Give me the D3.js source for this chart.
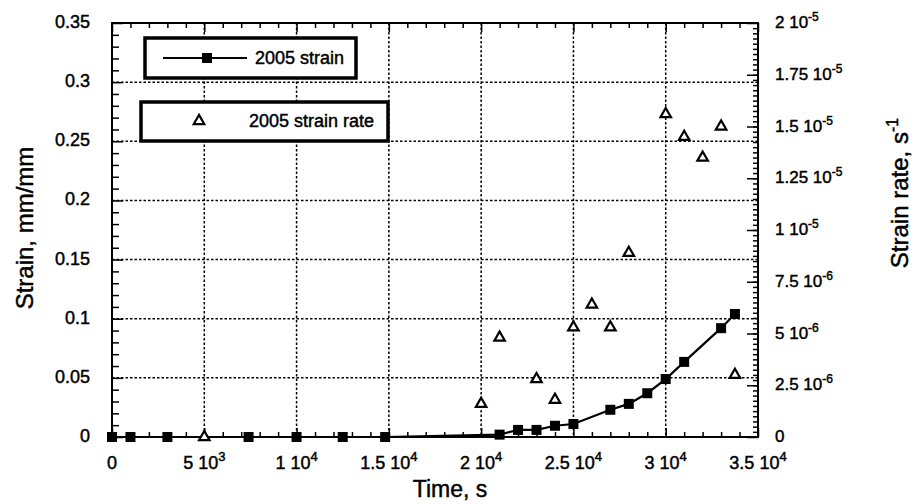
<!DOCTYPE html>
<html>
<head>
<meta charset="utf-8">
<script src="https://cdn.jsdelivr.net/npm/d3@7"></script>
<style>
  body { margin: 0; background: #fff; }
  text { font-family: "Liberation Sans", Arial, Helvetica, sans-serif; fill: #000; stroke: #000; stroke-width: 0.45px; }
</style>
</head>
<body>
<script>
// data
var strainTime = [0, 1000, 3000, 7400, 10000, 12500, 14800, 21000, 22000, 23000, 24000, 25000, 27000, 28000, 29000, 30000, 31000, 33000, 33750];
var strainValue = [0, 0, 0, 0, 0, 0, 0, 0.002, 0.006, 0.006, 0.0095, 0.011, 0.023, 0.028, 0.037, 0.049, 0.0635, 0.092, 0.104];

var rateTime = [5000, 20000, 21000, 23000, 24000, 25000, 26000, 27000, 28000, 30000, 31000, 32000, 33000, 33750];
var rateValue = [0, 1.6e-6, 4.8e-6, 2.8e-6, 1.8e-6, 5.3e-6, 6.4e-6, 5.3e-6, 8.9e-6, 1.56e-5, 1.45e-5, 1.35e-5, 1.5e-5, 3.0e-6];

var xTicks = [0, 5000, 10000, 15000, 20000, 25000, 30000, 35000];
var xTickMant = ["0", "5", "1", "1.5", "2", "2.5", "3", "3.5"];
var xTickExp = ["", "3", "4", "4", "4", "4", "4", "4"];

var yTicks = [0, 0.05, 0.1, 0.15, 0.2, 0.25, 0.3, 0.35];
var yTickLabels = ["0", "0.05", "0.1", "0.15", "0.2", "0.25", "0.3", "0.35"];

var y2Ticks = [0, 2.5e-6, 5e-6, 7.5e-6, 1e-5, 1.25e-5, 1.5e-5, 1.75e-5, 2e-5];
var y2TickMant = ["0", "2.5", "5", "7.5", "1", "1.25", "1.5", "1.75", "2"];
var y2TickExp = ["", "-6", "-6", "-6", "-5", "-5", "-5", "-5", "-5"];

var svgWidth = 917;
var svgHeight = 504;

var plotLeft = 112, plotRight = 758, plotTop = 23, plotBottom = 437;

var svg = d3.select("body")
  .append("svg")
  .attr("width", svgWidth)
  .attr("height", svgHeight);

var x = d3.scaleLinear().domain([0, 35000]).range([plotLeft, plotRight]);
var y = d3.scaleLinear().domain([0, 0.35]).range([plotBottom, plotTop]);
var y2 = d3.scaleLinear().domain([0, 2e-5]).range([plotBottom, plotTop]);

// grid
var grid = svg.append("g")
  .attr("stroke", "#000")
  .attr("stroke-width", 1.5)
  .attr("stroke-dasharray", "2.5,2");

grid.selectAll(".vg")
  .data(xTicks.slice(1, -1))
  .enter().append("line")
  .attr("x1", d => x(d)).attr("x2", d => x(d))
  .attr("y1", plotTop).attr("y2", plotBottom);

grid.selectAll(".hg")
  .data(yTicks.slice(1, -1))
  .enter().append("line")
  .attr("x1", plotLeft).attr("x2", plotRight)
  .attr("y1", d => y(d)).attr("y2", d => y(d));

// tick marks through d3 axes (labels drawn separately for superscripts)
var minorX = d3.range(0, 35001, 1000).filter(d => d % 5000 !== 0);
var minorY = d3.range(1, 35).filter(d => d % 5 !== 0).map(d => d / 100);
var minorY2 = d3.range(1, 80).map(d => d * 2.5e-7);

function tickAxis(axis, tr) {
  var g = svg.append("g").attr("transform", tr).call(axis);
  g.select(".domain").remove();
  g.selectAll("line").attr("stroke", "#000").attr("stroke-width", 1.5);
  return g;
}

tickAxis(d3.axisTop(x).tickValues(xTicks).tickSize(9).tickFormat(""), `translate(0,${plotBottom})`);
tickAxis(d3.axisTop(x).tickValues(minorX).tickSize(5).tickFormat(""), `translate(0,${plotBottom})`);
tickAxis(d3.axisBottom(x).tickValues(xTicks).tickSize(9).tickFormat(""), `translate(0,${plotTop})`);
tickAxis(d3.axisBottom(x).tickValues(minorX).tickSize(5).tickFormat(""), `translate(0,${plotTop})`);
tickAxis(d3.axisRight(y).tickValues(yTicks).tickSize(11).tickFormat(""), `translate(${plotLeft},0)`);
tickAxis(d3.axisRight(y).tickValues(minorY).tickSize(7).tickFormat(""), `translate(${plotLeft},0)`);
tickAxis(d3.axisLeft(y2).tickValues(y2Ticks).tickSize(11).tickFormat(""), `translate(${plotRight},0)`);
tickAxis(d3.axisLeft(y2).tickValues(minorY2).tickSize(5).tickFormat(""), `translate(${plotRight},0)`);

// frame
svg.append("rect")
  .attr("x", plotLeft).attr("y", plotTop)
  .attr("width", plotRight - plotLeft).attr("height", plotBottom - plotTop)
  .attr("fill", "none").attr("stroke", "#000").attr("stroke-width", 2);

// tick labels
svg.selectAll(".ylab")
  .data(yTicks)
  .enter().append("text")
  .attr("x", 90)
  .attr("y", d => y(d) + 5)
  .attr("text-anchor", "end")
  .attr("font-size", 18)
  .text((d, i) => yTickLabels[i]);

var xl = svg.selectAll(".xlab")
  .data(xTicks)
  .enter().append("text")
  .attr("x", d => x(d))
  .attr("y", 469)
  .attr("text-anchor", "middle")
  .attr("font-size", 18);
xl.append("tspan").text((d, i) => xTickExp[i] ? xTickMant[i] + " 10" : xTickMant[i]);
xl.append("tspan").attr("dy", -8).attr("font-size", 13).text((d, i) => xTickExp[i]);

var yl2 = svg.selectAll(".y2lab")
  .data(y2Ticks)
  .enter().append("text")
  .attr("x", 775)
  .attr("y", d => y2(d) + 5)
  .attr("font-size", 17);
yl2.append("tspan").text((d, i) => y2TickExp[i] ? y2TickMant[i] + " 10" : y2TickMant[i]);
yl2.append("tspan").attr("dy", -7).attr("font-size", 12).text((d, i) => y2TickExp[i]);

// axis titles
svg.append("text")
  .attr("x", 450).attr("y", 497)
  .attr("text-anchor", "middle")
  .attr("font-size", 23)
  .text("Time, s");

svg.append("text")
  .attr("transform", "translate(33,228) rotate(-90)")
  .attr("text-anchor", "middle")
  .attr("font-size", 24)
  .text("Strain, mm/mm");

var rt = svg.append("text")
  .attr("transform", "translate(908,193) rotate(-90)")
  .attr("text-anchor", "middle")
  .attr("font-size", 24);
rt.append("tspan").text("Strain rate, s");
rt.append("tspan").attr("dy", -10).attr("font-size", 16).text("-1");

// strain line with squares
var strainData = strainTime.map((t, i) => ({ t: t, v: strainValue[i] }));
svg.append("path")
  .datum(strainData)
  .attr("fill", "none")
  .attr("stroke", "#000")
  .attr("stroke-width", 2.2)
  .attr("d", d3.line().x(d => x(d.t)).y(d => y(d.v)));

svg.selectAll(".sq")
  .data(strainData)
  .enter().append("rect")
  .attr("x", d => x(d.t) - 5)
  .attr("y", d => y(d.v) - 5)
  .attr("width", 10).attr("height", 10)
  .attr("fill", "#000");

// strain rate triangles
var tri = d3.symbol().type(d3.symbolTriangle).size(48);
svg.selectAll(".tri")
  .data(rateTime.map((t, i) => ({ t: t, v: rateValue[i] })))
  .enter().append("path")
  .attr("d", tri)
  .attr("transform", d => `translate(${x(d.t)},${y2(d.v)})`)
  .attr("fill", "#fff")
  .attr("stroke", "#000")
  .attr("stroke-width", 2.2);

// legend
var leg1 = svg.append("g");
leg1.append("rect")
  .attr("x", 145).attr("y", 38).attr("width", 211).attr("height", 40)
  .attr("fill", "#fff").attr("stroke", "#000").attr("stroke-width", 3.5);
leg1.append("line")
  .attr("x1", 163).attr("x2", 247).attr("y1", 58).attr("y2", 58)
  .attr("stroke", "#000").attr("stroke-width", 2);
leg1.append("rect")
  .attr("x", 202).attr("y", 53).attr("width", 10).attr("height", 10)
  .attr("fill", "#000");
leg1.append("text")
  .attr("x", 255).attr("y", 64)
  .attr("font-size", 18)
  .text("2005 strain");

var leg2 = svg.append("g");
leg2.append("rect")
  .attr("x", 141).attr("y", 102).attr("width", 247).attr("height", 39)
  .attr("fill", "#fff").attr("stroke", "#000").attr("stroke-width", 3.5);
leg2.append("path")
  .attr("d", tri)
  .attr("transform", "translate(199,121)")
  .attr("fill", "#fff").attr("stroke", "#000").attr("stroke-width", 2.2);
leg2.append("text")
  .attr("x", 249).attr("y", 127)
  .attr("font-size", 18)
  .text("2005 strain rate");
</script>
</body>
</html>
